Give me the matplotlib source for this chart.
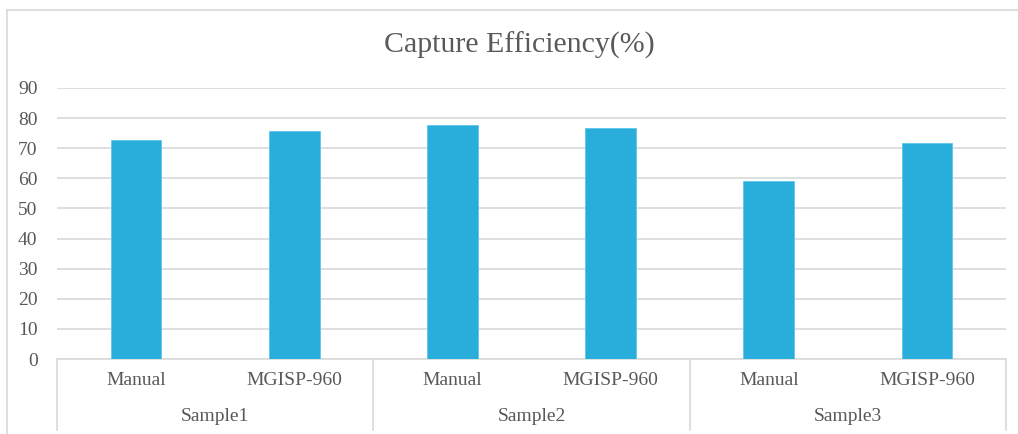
import matplotlib.pyplot as plt
from matplotlib.lines import Line2D

samples = ['Sample1', 'Sample2', 'Sample3']
methods = ['Manual', 'MGISP-960']
efficiency = [72.8, 75.6, 77.6, 76.6, 59.1, 71.7]
yticks = [0, 10, 20, 30, 40, 50, 60, 70, 80, 90]

bar_color = '#29ADDA'
text_color = '#595959'
grid_color = '#D9D9D9'

plt.rcParams['font.family'] = ['Liberation Serif', 'DejaVu Serif']

fig = plt.figure(figsize=(10.18, 4.34), dpi=100)
W, H = 1018, 434

# outer chart border
fig.add_artist(Line2D([7 / W, 7 / W], [0, 1 - 10 / H], color=grid_color, lw=1.2))
fig.add_artist(Line2D([7 / W, 1], [1 - 10 / H, 1 - 10 / H], color=grid_color, lw=1.2))

ax = fig.add_axes([57 / W, 1 - 359 / H, (1006 - 57) / W, (359 - 88) / H])

n = len(samples) * len(methods)
x = list(range(n))
ax.bar(x, efficiency, width=0.32, color=bar_color, edgecolor='#5CC8EC', linewidth=0.6, zorder=3)

ax.set_xlim(-0.5, n - 0.5)
ax.set_ylim(0, 90)
ax.set_yticks(yticks)
ax.set_yticklabels([str(t) for t in yticks], fontsize=14, color=text_color)
ax.yaxis.grid(True, color=grid_color, lw=1.2, zorder=0)
ax.tick_params(axis='y', length=0, pad=14)
ax.set_xticks([])
for s in ['top', 'right', 'left']:
    ax.spines[s].set_visible(False)
ax.spines['bottom'].set_color(grid_color)
ax.spines['bottom'].set_linewidth(1.2)

# two-level category labels
for i in range(n):
    ax.text(i, -7.3, methods[i % len(methods)], ha='center', va='center',
            fontsize=14, color=text_color, clip_on=False)
for j, s in enumerate(samples):
    ax.text(j * 2 + 0.5, -19.0, s, ha='center', va='center',
            fontsize=14, color=text_color, clip_on=False)
for k in range(len(samples) + 1):
    xs = k * 2 - 0.5
    ax.add_line(Line2D([xs, xs], [0, -23.5], color=grid_color, lw=1.2, clip_on=False))

fig.text(519 / W, 1 - 45 / H, 'Capture Efficiency(%)', ha='center', va='center',
         fontsize=21.5, color=text_color)

fig.savefig('out.png', dpi=100)
